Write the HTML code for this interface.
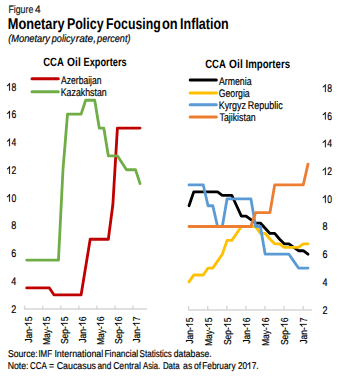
<!DOCTYPE html><html><head><meta charset="utf-8"><style>html,body{margin:0;padding:0;background:#fff;width:343px;height:378px;overflow:hidden}svg{display:block;font-family:"Liberation Sans",sans-serif;text-rendering:geometricPrecision}</style></head><body>
<svg width="343" height="378" viewBox="0 0 343 378">
<rect width="343" height="378" fill="#fff"/>
<text x="8.4" y="12.8" font-size="10.8" font-weight="normal" font-style="normal" text-anchor="start" fill="#111" stroke="#111" stroke-width="0.18" textLength="24.89" lengthAdjust="spacingAndGlyphs" >Figure</text>
<text x="35.05" y="12.8" font-size="10.8" font-weight="normal" font-style="normal" text-anchor="start" fill="#111" stroke="#111" stroke-width="0.18" textLength="5.63" lengthAdjust="spacingAndGlyphs" >4</text>
<text x="7.8" y="28.8" font-size="15.6" font-weight="bold" font-style="normal" text-anchor="start" fill="#000" textLength="56.71" lengthAdjust="spacingAndGlyphs" >Monetary</text>
<text x="66.95" y="28.8" font-size="15.6" font-weight="bold" font-style="normal" text-anchor="start" fill="#000" textLength="36.72" lengthAdjust="spacingAndGlyphs" >Policy</text>
<text x="106.1" y="28.8" font-size="15.6" font-weight="bold" font-style="normal" text-anchor="start" fill="#000" textLength="54.54" lengthAdjust="spacingAndGlyphs" >Focusing</text>
<text x="162.0" y="28.8" font-size="15.6" font-weight="bold" font-style="normal" text-anchor="start" fill="#000" textLength="15.71" lengthAdjust="spacingAndGlyphs" >on</text>
<text x="180.1" y="28.8" font-size="15.6" font-weight="bold" font-style="normal" text-anchor="start" fill="#000" textLength="48.66" lengthAdjust="spacingAndGlyphs" >Inflation</text>
<text x="8.15" y="41.7" font-size="10.6" font-weight="normal" font-style="italic" text-anchor="start" fill="#000" stroke="#000" stroke-width="0.18" textLength="41.85" lengthAdjust="spacingAndGlyphs" >(Monetary</text>
<text x="51.8" y="41.7" font-size="10.6" font-weight="normal" font-style="italic" text-anchor="start" fill="#000" stroke="#000" stroke-width="0.18" textLength="23.22" lengthAdjust="spacingAndGlyphs" >policy</text>
<text x="75.75" y="41.7" font-size="10.6" font-weight="normal" font-style="italic" text-anchor="start" fill="#000" stroke="#000" stroke-width="0.18" textLength="20.32" lengthAdjust="spacingAndGlyphs" >rate,</text>
<text x="97.1" y="41.7" font-size="10.6" font-weight="normal" font-style="italic" text-anchor="start" fill="#000" stroke="#000" stroke-width="0.18" textLength="33.4" lengthAdjust="spacingAndGlyphs" >percent)</text>
<text x="43.25" y="65.6" font-size="12" font-weight="bold" font-style="normal" text-anchor="start" fill="#000" textLength="20.56" lengthAdjust="spacingAndGlyphs" >CCA</text>
<text x="67.1" y="65.6" font-size="12" font-weight="bold" font-style="normal" text-anchor="start" fill="#000" textLength="13.63" lengthAdjust="spacingAndGlyphs" >Oil</text>
<text x="83.55" y="65.6" font-size="12" font-weight="bold" font-style="normal" text-anchor="start" fill="#000" textLength="43.07" lengthAdjust="spacingAndGlyphs" >Exporters</text>
<text x="205.15" y="67.5" font-size="12" font-weight="bold" font-style="normal" text-anchor="start" fill="#000" textLength="20.67" lengthAdjust="spacingAndGlyphs" >CCA</text>
<text x="229.1" y="67.5" font-size="12" font-weight="bold" font-style="normal" text-anchor="start" fill="#000" textLength="13.63" lengthAdjust="spacingAndGlyphs" >Oil</text>
<text x="245.55" y="67.5" font-size="12" font-weight="bold" font-style="normal" text-anchor="start" fill="#000" textLength="44.52" lengthAdjust="spacingAndGlyphs" >Importers</text>
<text x="61.0" y="83.8" font-size="11" font-weight="normal" font-style="normal" text-anchor="start" fill="#000" stroke="#000" stroke-width="0.18" textLength="40.51" lengthAdjust="spacingAndGlyphs" >Azerbaijan</text>
<text x="60.75" y="95.6" font-size="11" font-weight="normal" font-style="normal" text-anchor="start" fill="#000" stroke="#000" stroke-width="0.18" textLength="45.93" lengthAdjust="spacingAndGlyphs" >Kazakhstan</text>
<text x="218.95" y="84.8" font-size="11" font-weight="normal" font-style="normal" text-anchor="start" fill="#000" stroke="#000" stroke-width="0.18" textLength="32.6" lengthAdjust="spacingAndGlyphs" >Armenia</text>
<text x="218.65" y="96.7" font-size="11" font-weight="normal" font-style="normal" text-anchor="start" fill="#000" stroke="#000" stroke-width="0.18" textLength="31.06" lengthAdjust="spacingAndGlyphs" >Georgia</text>
<text x="218.7" y="109.0" font-size="11" font-weight="normal" font-style="normal" text-anchor="start" fill="#000" stroke="#000" stroke-width="0.18" textLength="27.24" lengthAdjust="spacingAndGlyphs" >Kyrgyz</text>
<text x="247.75" y="109.0" font-size="11" font-weight="normal" font-style="normal" text-anchor="start" fill="#000" stroke="#000" stroke-width="0.18" textLength="34.88" lengthAdjust="spacingAndGlyphs" >Republic</text>
<text x="219.55" y="120.9" font-size="11" font-weight="normal" font-style="normal" text-anchor="start" fill="#000" stroke="#000" stroke-width="0.18" textLength="36.11" lengthAdjust="spacingAndGlyphs" >Tajikistan</text>
<text x="7.95" y="357.0" font-size="9.9" font-weight="normal" font-style="normal" text-anchor="start" fill="#000" stroke="#000" stroke-width="0.18" textLength="29.85" lengthAdjust="spacingAndGlyphs" >Source:</text>
<text x="38.4" y="357.0" font-size="9.9" font-weight="normal" font-style="normal" text-anchor="start" fill="#000" stroke="#000" stroke-width="0.18" textLength="13.63" lengthAdjust="spacingAndGlyphs" >IMF</text>
<text x="54.4" y="357.0" font-size="9.9" font-weight="normal" font-style="normal" text-anchor="start" fill="#000" stroke="#000" stroke-width="0.18" textLength="48.83" lengthAdjust="spacingAndGlyphs" >International</text>
<text x="104.4" y="357.0" font-size="9.9" font-weight="normal" font-style="normal" text-anchor="start" fill="#000" stroke="#000" stroke-width="0.18" textLength="33.85" lengthAdjust="spacingAndGlyphs" >Financial</text>
<text x="139.6" y="357.0" font-size="9.9" font-weight="normal" font-style="normal" text-anchor="start" fill="#000" stroke="#000" stroke-width="0.18" textLength="32.21" lengthAdjust="spacingAndGlyphs" >Statistics</text>
<text x="173.75" y="357.0" font-size="9.9" font-weight="normal" font-style="normal" text-anchor="start" fill="#000" stroke="#000" stroke-width="0.18" textLength="38.03" lengthAdjust="spacingAndGlyphs" >database.</text>
<text x="7.75" y="369.0" font-size="9.9" font-weight="normal" font-style="normal" text-anchor="start" fill="#000" stroke="#000" stroke-width="0.18" textLength="20.79" lengthAdjust="spacingAndGlyphs" >Note:</text>
<text x="30.1" y="369.0" font-size="9.9" font-weight="normal" font-style="normal" text-anchor="start" fill="#000" stroke="#000" stroke-width="0.18" textLength="16.76" lengthAdjust="spacingAndGlyphs" >CCA</text>
<text x="49.1" y="369.0" font-size="9.9" font-weight="normal" font-style="normal" text-anchor="start" fill="#000" stroke="#000" stroke-width="0.18" textLength="5.05" lengthAdjust="spacingAndGlyphs" >=</text>
<text x="56.65" y="369.0" font-size="9.9" font-weight="normal" font-style="normal" text-anchor="start" fill="#000" stroke="#000" stroke-width="0.18" textLength="39.42" lengthAdjust="spacingAndGlyphs" >Caucasus</text>
<text x="97.45" y="369.0" font-size="9.9" font-weight="normal" font-style="normal" text-anchor="start" fill="#000" stroke="#000" stroke-width="0.18" textLength="13.8" lengthAdjust="spacingAndGlyphs" >and</text>
<text x="113.15" y="369.0" font-size="9.9" font-weight="normal" font-style="normal" text-anchor="start" fill="#000" stroke="#000" stroke-width="0.18" textLength="27.73" lengthAdjust="spacingAndGlyphs" >Central</text>
<text x="143.0" y="369.0" font-size="9.9" font-weight="normal" font-style="normal" text-anchor="start" fill="#000" stroke="#000" stroke-width="0.18" textLength="17.17" lengthAdjust="spacingAndGlyphs" >Asia.</text>
<text x="162.9" y="369.0" font-size="9.9" font-weight="normal" font-style="normal" text-anchor="start" fill="#000" stroke="#000" stroke-width="0.18" textLength="16.65" lengthAdjust="spacingAndGlyphs" >Data</text>
<text x="183.1" y="369.0" font-size="9.9" font-weight="normal" font-style="normal" text-anchor="start" fill="#000" stroke="#000" stroke-width="0.18" textLength="9.23" lengthAdjust="spacingAndGlyphs" >as</text>
<text x="194.1" y="369.0" font-size="9.9" font-weight="normal" font-style="normal" text-anchor="start" fill="#000" stroke="#000" stroke-width="0.18" textLength="7.11" lengthAdjust="spacingAndGlyphs" >of</text>
<text x="202.25" y="369.0" font-size="9.9" font-weight="normal" font-style="normal" text-anchor="start" fill="#000" stroke="#000" stroke-width="0.18" textLength="33.31" lengthAdjust="spacingAndGlyphs" >February</text>
<text x="237.95" y="369.0" font-size="9.9" font-weight="normal" font-style="normal" text-anchor="start" fill="#000" stroke="#000" stroke-width="0.18" textLength="20.61" lengthAdjust="spacingAndGlyphs" >20 7.</text><path d="M250.18,369.00 L249.45,369.00 L249.45,363.68 L248.99,364.12 L248.43,364.53 L247.38,365.08 L247.38,364.29 L248.10,363.85 L248.79,363.27 L249.36,362.62 L249.68,362.19 L250.18,362.19Z" fill="#000" stroke="#000" stroke-width="0.18"/>
<line x1="32" y1="78.8" x2="58.3" y2="78.8" stroke="#C00000" stroke-width="3" stroke-linecap="round"/>
<line x1="32" y1="91.7" x2="58.3" y2="91.7" stroke="#70AD47" stroke-width="3" stroke-linecap="round"/>
<line x1="190.2" y1="79.9" x2="216.3" y2="79.9" stroke="#000000" stroke-width="3" stroke-linecap="round"/>
<line x1="190.2" y1="92.9" x2="216.3" y2="92.9" stroke="#FFC000" stroke-width="3" stroke-linecap="round"/>
<line x1="190.2" y1="104.8" x2="216.3" y2="104.8" stroke="#5B9BD5" stroke-width="3" stroke-linecap="round"/>
<line x1="190.2" y1="116.9" x2="216.3" y2="116.9" stroke="#ED7D31" stroke-width="3" stroke-linecap="round"/>
<text x="16.3" y="312.60" font-size="11" font-weight="normal" font-style="normal" text-anchor="end" fill="#000" stroke="#000" stroke-width="0.18" textLength="5.0" lengthAdjust="spacingAndGlyphs" >2</text>
<text x="322.5" y="313.50" font-size="11" font-weight="normal" font-style="normal" text-anchor="start" fill="#000" stroke="#000" stroke-width="0.18" textLength="5.0" lengthAdjust="spacingAndGlyphs" >2</text>
<text x="16.3" y="284.86" font-size="11" font-weight="normal" font-style="normal" text-anchor="end" fill="#000" stroke="#000" stroke-width="0.18" textLength="5.0" lengthAdjust="spacingAndGlyphs" >4</text>
<text x="322.5" y="285.80" font-size="11" font-weight="normal" font-style="normal" text-anchor="start" fill="#000" stroke="#000" stroke-width="0.18" textLength="5.0" lengthAdjust="spacingAndGlyphs" >4</text>
<text x="16.3" y="257.12" font-size="11" font-weight="normal" font-style="normal" text-anchor="end" fill="#000" stroke="#000" stroke-width="0.18" textLength="5.0" lengthAdjust="spacingAndGlyphs" >6</text>
<text x="322.5" y="258.10" font-size="11" font-weight="normal" font-style="normal" text-anchor="start" fill="#000" stroke="#000" stroke-width="0.18" textLength="5.0" lengthAdjust="spacingAndGlyphs" >6</text>
<text x="16.3" y="229.38" font-size="11" font-weight="normal" font-style="normal" text-anchor="end" fill="#000" stroke="#000" stroke-width="0.18" textLength="5.0" lengthAdjust="spacingAndGlyphs" >8</text>
<text x="322.5" y="230.40" font-size="11" font-weight="normal" font-style="normal" text-anchor="start" fill="#000" stroke="#000" stroke-width="0.18" textLength="5.0" lengthAdjust="spacingAndGlyphs" >8</text>
<text x="16.3" y="201.64" font-size="11" font-weight="normal" font-style="normal" text-anchor="end" fill="#000" stroke="#000" stroke-width="0.18" textLength="9.6" lengthAdjust="spacingAndGlyphs" > 0</text><path d="M9.92,201.64 L9.16,201.64 L9.16,195.73 L8.68,196.22 L8.09,196.67 L6.99,197.29 L6.99,196.40 L7.75,195.92 L8.47,195.28 L9.06,194.55 L9.40,194.07 L9.92,194.07Z" fill="#000" stroke="#000" stroke-width="0.18"/>
<text x="322.5" y="202.70" font-size="11" font-weight="normal" font-style="normal" text-anchor="start" fill="#000" stroke="#000" stroke-width="0.18" textLength="9.6" lengthAdjust="spacingAndGlyphs" > 0</text><path d="M325.72,202.70 L324.96,202.70 L324.96,196.79 L324.48,197.28 L323.89,197.73 L322.79,198.35 L322.79,197.46 L323.55,196.98 L324.27,196.34 L324.86,195.61 L325.20,195.13 L325.72,195.13Z" fill="#000" stroke="#000" stroke-width="0.18"/>
<text x="16.3" y="173.90" font-size="11" font-weight="normal" font-style="normal" text-anchor="end" fill="#000" stroke="#000" stroke-width="0.18" textLength="9.6" lengthAdjust="spacingAndGlyphs" > 2</text><path d="M9.92,173.90 L9.16,173.90 L9.16,167.99 L8.68,168.48 L8.09,168.93 L6.99,169.55 L6.99,168.66 L7.75,168.18 L8.47,167.54 L9.06,166.81 L9.40,166.33 L9.92,166.33Z" fill="#000" stroke="#000" stroke-width="0.18"/>
<text x="322.5" y="175.00" font-size="11" font-weight="normal" font-style="normal" text-anchor="start" fill="#000" stroke="#000" stroke-width="0.18" textLength="9.6" lengthAdjust="spacingAndGlyphs" > 2</text><path d="M325.72,175.00 L324.96,175.00 L324.96,169.09 L324.48,169.58 L323.89,170.03 L322.79,170.65 L322.79,169.76 L323.55,169.28 L324.27,168.64 L324.86,167.91 L325.20,167.43 L325.72,167.43Z" fill="#000" stroke="#000" stroke-width="0.18"/>
<text x="16.3" y="146.16" font-size="11" font-weight="normal" font-style="normal" text-anchor="end" fill="#000" stroke="#000" stroke-width="0.18" textLength="9.6" lengthAdjust="spacingAndGlyphs" > 4</text><path d="M9.92,146.16 L9.16,146.16 L9.16,140.25 L8.68,140.74 L8.09,141.19 L6.99,141.81 L6.99,140.92 L7.75,140.44 L8.47,139.80 L9.06,139.07 L9.40,138.59 L9.92,138.59Z" fill="#000" stroke="#000" stroke-width="0.18"/>
<text x="322.5" y="147.30" font-size="11" font-weight="normal" font-style="normal" text-anchor="start" fill="#000" stroke="#000" stroke-width="0.18" textLength="9.6" lengthAdjust="spacingAndGlyphs" > 4</text><path d="M325.72,147.30 L324.96,147.30 L324.96,141.39 L324.48,141.88 L323.89,142.33 L322.79,142.95 L322.79,142.06 L323.55,141.58 L324.27,140.94 L324.86,140.21 L325.20,139.73 L325.72,139.73Z" fill="#000" stroke="#000" stroke-width="0.18"/>
<text x="16.3" y="118.42" font-size="11" font-weight="normal" font-style="normal" text-anchor="end" fill="#000" stroke="#000" stroke-width="0.18" textLength="9.6" lengthAdjust="spacingAndGlyphs" > 6</text><path d="M9.92,118.42 L9.16,118.42 L9.16,112.51 L8.68,113.00 L8.09,113.45 L6.99,114.07 L6.99,113.18 L7.75,112.70 L8.47,112.06 L9.06,111.33 L9.40,110.85 L9.92,110.85Z" fill="#000" stroke="#000" stroke-width="0.18"/>
<text x="322.5" y="119.60" font-size="11" font-weight="normal" font-style="normal" text-anchor="start" fill="#000" stroke="#000" stroke-width="0.18" textLength="9.6" lengthAdjust="spacingAndGlyphs" > 6</text><path d="M325.72,119.60 L324.96,119.60 L324.96,113.69 L324.48,114.18 L323.89,114.63 L322.79,115.25 L322.79,114.36 L323.55,113.88 L324.27,113.24 L324.86,112.51 L325.20,112.03 L325.72,112.03Z" fill="#000" stroke="#000" stroke-width="0.18"/>
<text x="16.3" y="90.68" font-size="11" font-weight="normal" font-style="normal" text-anchor="end" fill="#000" stroke="#000" stroke-width="0.18" textLength="9.6" lengthAdjust="spacingAndGlyphs" > 8</text><path d="M9.92,90.68 L9.16,90.68 L9.16,84.77 L8.68,85.26 L8.09,85.71 L6.99,86.33 L6.99,85.44 L7.75,84.96 L8.47,84.32 L9.06,83.59 L9.40,83.11 L9.92,83.11Z" fill="#000" stroke="#000" stroke-width="0.18"/>
<text x="322.5" y="91.90" font-size="11" font-weight="normal" font-style="normal" text-anchor="start" fill="#000" stroke="#000" stroke-width="0.18" textLength="9.6" lengthAdjust="spacingAndGlyphs" > 8</text><path d="M325.72,91.90 L324.96,91.90 L324.96,85.99 L324.48,86.48 L323.89,86.93 L322.79,87.55 L322.79,86.66 L323.55,86.18 L324.27,85.54 L324.86,84.81 L325.20,84.33 L325.72,84.33Z" fill="#000" stroke="#000" stroke-width="0.18"/>
<line x1="24.1" y1="309" x2="147.2" y2="309" stroke="#D6D6D6" stroke-width="1.6"/>
<line x1="24.60" y1="305.6" x2="24.60" y2="309" stroke="#D6D6D6" stroke-width="1.4"/>
<line x1="42.68" y1="305.6" x2="42.68" y2="309" stroke="#D6D6D6" stroke-width="1.4"/>
<line x1="60.76" y1="305.6" x2="60.76" y2="309" stroke="#D6D6D6" stroke-width="1.4"/>
<line x1="78.84" y1="305.6" x2="78.84" y2="309" stroke="#D6D6D6" stroke-width="1.4"/>
<line x1="96.92" y1="305.6" x2="96.92" y2="309" stroke="#D6D6D6" stroke-width="1.4"/>
<line x1="115.00" y1="305.6" x2="115.00" y2="309" stroke="#D6D6D6" stroke-width="1.4"/>
<line x1="133.08" y1="305.6" x2="133.08" y2="309" stroke="#D6D6D6" stroke-width="1.4"/>
<line x1="188.1" y1="310" x2="311.8" y2="310" stroke="#D6D6D6" stroke-width="1.6"/>
<line x1="188.60" y1="306.0" x2="188.60" y2="310" stroke="#D6D6D6" stroke-width="1.4"/>
<line x1="207.70" y1="306.0" x2="207.70" y2="310" stroke="#D6D6D6" stroke-width="1.4"/>
<line x1="226.80" y1="306.0" x2="226.80" y2="310" stroke="#D6D6D6" stroke-width="1.4"/>
<line x1="245.90" y1="306.0" x2="245.90" y2="310" stroke="#D6D6D6" stroke-width="1.4"/>
<line x1="265.00" y1="306.0" x2="265.00" y2="310" stroke="#D6D6D6" stroke-width="1.4"/>
<line x1="284.10" y1="306.0" x2="284.10" y2="310" stroke="#D6D6D6" stroke-width="1.4"/>
<line x1="303.20" y1="306.0" x2="303.20" y2="310" stroke="#D6D6D6" stroke-width="1.4"/>
<g transform="translate(31.70,316.6) rotate(-90)"><text x="0" y="0" font-size="10" font-weight="normal" font-style="normal" text-anchor="end" fill="#000" stroke="#000" stroke-width="0.18" textLength="26.1" lengthAdjust="spacingAndGlyphs" >Jan- 5</text><path d="M-6.32,0.00 L-7.07,0.00 L-7.07,-5.37 L-7.54,-4.93 L-8.12,-4.52 L-9.20,-3.96 L-9.20,-4.76 L-8.45,-5.20 L-7.75,-5.79 L-7.16,-6.45 L-6.83,-6.88 L-6.32,-6.88Z" fill="#000" stroke="#000" stroke-width="0.18"/></g>
<g transform="translate(192.90,317.6) rotate(-90)"><text x="0" y="0" font-size="10" font-weight="normal" font-style="normal" text-anchor="end" fill="#000" stroke="#000" stroke-width="0.18" textLength="26.1" lengthAdjust="spacingAndGlyphs" >Jan- 5</text><path d="M-6.32,0.00 L-7.07,0.00 L-7.07,-5.37 L-7.54,-4.93 L-8.12,-4.52 L-9.20,-3.96 L-9.20,-4.76 L-8.45,-5.20 L-7.75,-5.79 L-7.16,-6.45 L-6.83,-6.88 L-6.32,-6.88Z" fill="#000" stroke="#000" stroke-width="0.18"/></g>
<g transform="translate(49.70,316.6) rotate(-90)"><text x="0" y="0" font-size="10" font-weight="normal" font-style="normal" text-anchor="end" fill="#000" stroke="#000" stroke-width="0.18" textLength="28.5" lengthAdjust="spacingAndGlyphs" >May- 5</text><path d="M-6.33,0.00 L-7.08,0.00 L-7.08,-5.37 L-7.55,-4.93 L-8.14,-4.52 L-9.22,-3.96 L-9.22,-4.76 L-8.47,-5.20 L-7.76,-5.79 L-7.17,-6.45 L-6.84,-6.88 L-6.33,-6.88Z" fill="#000" stroke="#000" stroke-width="0.18"/></g>
<g transform="translate(211.85,317.6) rotate(-90)"><text x="0" y="0" font-size="10" font-weight="normal" font-style="normal" text-anchor="end" fill="#000" stroke="#000" stroke-width="0.18" textLength="28.5" lengthAdjust="spacingAndGlyphs" >May- 5</text><path d="M-6.33,0.00 L-7.08,0.00 L-7.08,-5.37 L-7.55,-4.93 L-8.14,-4.52 L-9.22,-3.96 L-9.22,-4.76 L-8.47,-5.20 L-7.76,-5.79 L-7.17,-6.45 L-6.84,-6.88 L-6.33,-6.88Z" fill="#000" stroke="#000" stroke-width="0.18"/></g>
<g transform="translate(67.70,316.6) rotate(-90)"><text x="0" y="0" font-size="10" font-weight="normal" font-style="normal" text-anchor="end" fill="#000" stroke="#000" stroke-width="0.18" textLength="27.5" lengthAdjust="spacingAndGlyphs" >Sep- 5</text><path d="M-6.31,0.00 L-7.07,0.00 L-7.07,-5.37 L-7.54,-4.93 L-8.12,-4.52 L-9.21,-3.96 L-9.21,-4.76 L-8.46,-5.20 L-7.75,-5.79 L-7.16,-6.45 L-6.83,-6.88 L-6.31,-6.88Z" fill="#000" stroke="#000" stroke-width="0.18"/></g>
<g transform="translate(230.80,317.6) rotate(-90)"><text x="0" y="0" font-size="10" font-weight="normal" font-style="normal" text-anchor="end" fill="#000" stroke="#000" stroke-width="0.18" textLength="27.5" lengthAdjust="spacingAndGlyphs" >Sep- 5</text><path d="M-6.31,0.00 L-7.07,0.00 L-7.07,-5.37 L-7.54,-4.93 L-8.12,-4.52 L-9.21,-3.96 L-9.21,-4.76 L-8.46,-5.20 L-7.75,-5.79 L-7.16,-6.45 L-6.83,-6.88 L-6.31,-6.88Z" fill="#000" stroke="#000" stroke-width="0.18"/></g>
<g transform="translate(85.70,316.6) rotate(-90)"><text x="0" y="0" font-size="10" font-weight="normal" font-style="normal" text-anchor="end" fill="#000" stroke="#000" stroke-width="0.18" textLength="26.1" lengthAdjust="spacingAndGlyphs" >Jan- 6</text><path d="M-6.32,0.00 L-7.07,0.00 L-7.07,-5.37 L-7.54,-4.93 L-8.12,-4.52 L-9.20,-3.96 L-9.20,-4.76 L-8.45,-5.20 L-7.75,-5.79 L-7.16,-6.45 L-6.83,-6.88 L-6.32,-6.88Z" fill="#000" stroke="#000" stroke-width="0.18"/></g>
<g transform="translate(249.75,317.6) rotate(-90)"><text x="0" y="0" font-size="10" font-weight="normal" font-style="normal" text-anchor="end" fill="#000" stroke="#000" stroke-width="0.18" textLength="26.1" lengthAdjust="spacingAndGlyphs" >Jan- 6</text><path d="M-6.32,0.00 L-7.07,0.00 L-7.07,-5.37 L-7.54,-4.93 L-8.12,-4.52 L-9.20,-3.96 L-9.20,-4.76 L-8.45,-5.20 L-7.75,-5.79 L-7.16,-6.45 L-6.83,-6.88 L-6.32,-6.88Z" fill="#000" stroke="#000" stroke-width="0.18"/></g>
<g transform="translate(103.70,316.6) rotate(-90)"><text x="0" y="0" font-size="10" font-weight="normal" font-style="normal" text-anchor="end" fill="#000" stroke="#000" stroke-width="0.18" textLength="28.5" lengthAdjust="spacingAndGlyphs" >May- 6</text><path d="M-6.33,0.00 L-7.08,0.00 L-7.08,-5.37 L-7.55,-4.93 L-8.14,-4.52 L-9.22,-3.96 L-9.22,-4.76 L-8.47,-5.20 L-7.76,-5.79 L-7.17,-6.45 L-6.84,-6.88 L-6.33,-6.88Z" fill="#000" stroke="#000" stroke-width="0.18"/></g>
<g transform="translate(268.70,317.6) rotate(-90)"><text x="0" y="0" font-size="10" font-weight="normal" font-style="normal" text-anchor="end" fill="#000" stroke="#000" stroke-width="0.18" textLength="28.5" lengthAdjust="spacingAndGlyphs" >May- 6</text><path d="M-6.33,0.00 L-7.08,0.00 L-7.08,-5.37 L-7.55,-4.93 L-8.14,-4.52 L-9.22,-3.96 L-9.22,-4.76 L-8.47,-5.20 L-7.76,-5.79 L-7.17,-6.45 L-6.84,-6.88 L-6.33,-6.88Z" fill="#000" stroke="#000" stroke-width="0.18"/></g>
<g transform="translate(121.70,316.6) rotate(-90)"><text x="0" y="0" font-size="10" font-weight="normal" font-style="normal" text-anchor="end" fill="#000" stroke="#000" stroke-width="0.18" textLength="27.5" lengthAdjust="spacingAndGlyphs" >Sep- 6</text><path d="M-6.31,0.00 L-7.07,0.00 L-7.07,-5.37 L-7.54,-4.93 L-8.12,-4.52 L-9.21,-3.96 L-9.21,-4.76 L-8.46,-5.20 L-7.75,-5.79 L-7.16,-6.45 L-6.83,-6.88 L-6.31,-6.88Z" fill="#000" stroke="#000" stroke-width="0.18"/></g>
<g transform="translate(287.65,317.6) rotate(-90)"><text x="0" y="0" font-size="10" font-weight="normal" font-style="normal" text-anchor="end" fill="#000" stroke="#000" stroke-width="0.18" textLength="27.5" lengthAdjust="spacingAndGlyphs" >Sep- 6</text><path d="M-6.31,0.00 L-7.07,0.00 L-7.07,-5.37 L-7.54,-4.93 L-8.12,-4.52 L-9.21,-3.96 L-9.21,-4.76 L-8.46,-5.20 L-7.75,-5.79 L-7.16,-6.45 L-6.83,-6.88 L-6.31,-6.88Z" fill="#000" stroke="#000" stroke-width="0.18"/></g>
<g transform="translate(139.70,316.6) rotate(-90)"><text x="0" y="0" font-size="10" font-weight="normal" font-style="normal" text-anchor="end" fill="#000" stroke="#000" stroke-width="0.18" textLength="26.1" lengthAdjust="spacingAndGlyphs" >Jan- 7</text><path d="M-6.32,0.00 L-7.07,0.00 L-7.07,-5.37 L-7.54,-4.93 L-8.12,-4.52 L-9.20,-3.96 L-9.20,-4.76 L-8.45,-5.20 L-7.75,-5.79 L-7.16,-6.45 L-6.83,-6.88 L-6.32,-6.88Z" fill="#000" stroke="#000" stroke-width="0.18"/></g>
<g transform="translate(306.60,317.6) rotate(-90)"><text x="0" y="0" font-size="10" font-weight="normal" font-style="normal" text-anchor="end" fill="#000" stroke="#000" stroke-width="0.18" textLength="26.1" lengthAdjust="spacingAndGlyphs" >Jan- 7</text><path d="M-6.32,0.00 L-7.07,0.00 L-7.07,-5.37 L-7.54,-4.93 L-8.12,-4.52 L-9.20,-3.96 L-9.20,-4.76 L-8.45,-5.20 L-7.75,-5.79 L-7.16,-6.45 L-6.83,-6.88 L-6.32,-6.88Z" fill="#000" stroke="#000" stroke-width="0.18"/></g>
<polyline points="26.70,287.90 31.23,287.90 35.77,287.90 40.30,287.90 44.84,287.90 49.38,287.90 53.91,294.85 58.45,294.85 62.98,294.85 67.52,294.85 72.05,294.85 76.59,294.85 81.12,294.85 85.66,267.05 90.19,239.25 94.73,239.25 99.26,239.25 103.80,239.25 108.33,239.25 112.87,204.50 117.40,128.05 121.94,128.05 126.47,128.05 131.00,128.05 135.54,128.05 140.07,128.05" fill="none" stroke="#C00000" stroke-width="2.8" stroke-linejoin="round" stroke-linecap="round"/>
<polyline points="26.70,260.10 31.23,260.10 35.77,260.10 40.30,260.10 44.84,260.10 49.38,260.10 53.91,260.10 58.45,260.10 62.98,169.75 67.52,114.15 72.05,114.15 76.59,114.15 81.12,114.15 85.66,100.25 90.19,100.25 94.73,100.25 99.26,128.05 103.80,128.05 108.33,155.85 112.87,155.85 117.40,155.85 121.94,162.80 126.47,169.75 131.00,169.75 135.54,169.75 140.07,183.65" fill="none" stroke="#70AD47" stroke-width="2.8" stroke-linejoin="round" stroke-linecap="round"/>
<polyline points="189.00,205.73 193.76,191.88 198.52,191.88 203.28,191.88 208.04,191.88 212.80,191.88 217.56,191.88 222.32,195.34 227.08,195.34 231.84,195.34 236.60,205.73 241.36,216.11 246.12,216.11 250.88,219.58 255.64,223.04 260.40,223.04 265.16,228.23 269.92,233.43 274.68,233.43 279.44,238.97 284.20,243.81 288.96,243.81 293.72,247.28 298.48,250.74 303.24,250.74 308.00,254.20" fill="none" stroke="#000000" stroke-width="2.8" stroke-linejoin="round" stroke-linecap="round"/>
<polyline points="189.00,281.90 193.76,274.98 198.52,274.98 203.28,274.98 208.04,268.05 212.80,268.05 217.56,261.12 222.32,254.20 227.08,240.35 231.84,240.35 236.60,233.43 241.36,226.50 246.12,226.50 250.88,226.50 255.64,226.50 260.40,233.43 265.16,233.43 269.92,238.97 274.68,243.81 279.44,243.81 284.20,247.28 288.96,247.28 293.72,247.28 298.48,247.28 303.24,243.81 308.00,243.81" fill="none" stroke="#FFC000" stroke-width="2.8" stroke-linejoin="round" stroke-linecap="round"/>
<polyline points="189.00,184.95 193.76,184.95 198.52,184.95 203.28,184.95 208.04,205.73 212.80,205.73 217.56,226.50 222.32,226.50 227.08,198.80 231.84,198.80 236.60,198.80 241.36,198.80 246.12,198.80 250.88,198.80 255.64,226.50 260.40,226.50 265.16,254.20 269.92,254.20 274.68,254.20 279.44,254.20 284.20,254.20 288.96,254.20 293.72,261.12 298.48,268.05 303.24,268.05 308.00,268.05" fill="none" stroke="#5B9BD5" stroke-width="2.8" stroke-linejoin="round" stroke-linecap="round"/>
<polyline points="189.00,226.50 193.76,226.50 198.52,226.50 203.28,226.50 208.04,226.50 212.80,226.50 217.56,226.50 222.32,226.50 227.08,226.50 231.84,226.50 236.60,226.50 241.36,226.50 246.12,226.50 250.88,226.50 255.64,212.65 260.40,212.65 265.16,212.65 269.92,212.65 274.68,184.95 279.44,184.95 284.20,184.95 288.96,184.95 293.72,184.95 298.48,184.95 303.24,184.95 308.00,164.18" fill="none" stroke="#ED7D31" stroke-width="2.8" stroke-linejoin="round" stroke-linecap="round"/>
</svg></body></html>
